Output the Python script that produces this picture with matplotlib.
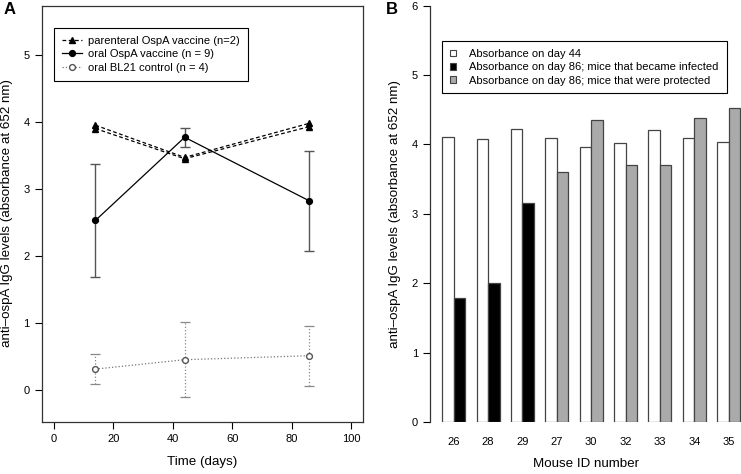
import matplotlib
matplotlib.use("Agg")
import matplotlib.pyplot as plt
import numpy as np
from matplotlib.lines import Line2D
from matplotlib.patches import Patch

plt.rcParams["font.family"] = ["Liberation Sans", "DejaVu Sans"]

# Panel A: antibody time course
days = [14, 44, 86]
parenteral_1 = [3.95, 3.47, 3.98]
parenteral_2 = [3.90, 3.45, 3.93]
oral_ospa = [2.53, 3.77, 2.82]
oral_ospa_lo = [1.68, 3.63, 2.08]
oral_ospa_hi = [3.37, 3.91, 3.57]
bl21 = [0.31, 0.45, 0.51]
bl21_lo = [0.085, -0.11, 0.055]
bl21_hi = [0.54, 1.01, 0.96]

# Panel B: per-mouse absorbance
mouse_ids = ["26", "28", "29", "27", "30", "32", "33", "34", "35"]
day44 = [4.11, 4.08, 4.23, 4.10, 3.97, 4.02, 4.21, 4.09, 4.03]
day86 = [1.79, 2.01, 3.16, 3.61, 4.35, 3.71, 3.70, 4.38, 4.53]
infected = [True, True, True, False, False, False, False, False, False]

ylabel = "anti\u2013ospA IgG levels (absorbance at 652 nm)"

fig = plt.figure(figsize=(7.41, 4.74), dpi=100)
W, H = 741, 474


def px_axes(l, r, t, b):
    return fig.add_axes([l / W, 1 - b / H, (r - l) / W, (b - t) / H])


# ---- A ----
ax1 = px_axes(42, 363, 6, 422)
ax1.set_xlim(-4, 104)
ax1.set_ylim(-0.48, 5.73)

ax1.plot(days, parenteral_1, "k--", marker="^", ms=4.2, lw=0.9, dashes=(3, 2))
ax1.plot(days, parenteral_2, "k--", marker="^", ms=4.2, lw=0.9, dashes=(3, 2))

err_lo = np.array(oral_ospa) - np.array(oral_ospa_lo)
err_hi = np.array(oral_ospa_hi) - np.array(oral_ospa)
ax1.errorbar(days, oral_ospa, yerr=[err_lo, err_hi], fmt="none", ecolor="#555555",
             elinewidth=1.0, capsize=3.5, capthick=1.0)
ax1.plot(days, oral_ospa, "k-", marker="o", ms=4.2, lw=0.9)

b_lo = np.array(bl21) - np.array(bl21_lo)
b_hi = np.array(bl21_hi) - np.array(bl21)
eb = ax1.errorbar(days, bl21, yerr=[b_lo, b_hi], fmt="none", ecolor="#888888",
                  elinewidth=0.9, capsize=3.5, capthick=0.9)
eb[2][0].set_linestyle(":")
ax1.plot(days, bl21, color="#777777", ls=":", marker="o", ms=4.2, mfc="white",
         mec="#555555", lw=0.9)

ax1.set_xticks([0, 20, 40, 60, 80, 100])
ax1.set_yticks([0, 1, 2, 3, 4, 5])
ax1.tick_params(direction="out", length=5, width=0.8, labelsize=8, pad=4)
for s in ax1.spines.values():
    s.set_linewidth(0.9)
    s.set_color("#333333")
ax1.set_xlabel("Time (days)", fontsize=9.6, labelpad=8)

h1 = [
    Line2D([], [], color="k", ls="--", dashes=(3, 2), marker="^", ms=4.2, lw=0.9),
    Line2D([], [], color="k", ls="-", marker="o", ms=4.2, lw=0.9),
    Line2D([], [], color="#777777", ls=":", marker="o", ms=4.2, mfc="white", mec="#555555", lw=0.9),
]
leg1 = ax1.legend(h1, ["parenteral OspA vaccine (n=2)", "oral OspA vaccine (n = 9)",
                       "oral BL21 control (n = 4)"],
                  loc="upper left", bbox_to_anchor=(0.037, 0.947), fontsize=8,
                  fancybox=False, framealpha=1, edgecolor="k", handlelength=1.8,
                  handletextpad=0.6, labelspacing=0.32, borderpad=0.7, borderaxespad=0)
leg1.get_frame().set_linewidth(0.8)

# ---- B ----
ax2 = px_axes(430.4, 741, 5.7, 422)
x_group = np.arange(len(mouse_ids)) * 3
ax2.bar(x_group + 1.5, day44, width=1.0, color="white", edgecolor="#444444", lw=0.9)
col86 = ["black" if inf else "#aaaaaa" for inf in infected]
ax2.bar(x_group + 2.5, day86, width=1.0, color=col86, edgecolor="#444444", lw=0.9)
ax2.set_xlim(-0.04, 27.08)
ax2.set_ylim(0, 6)
ax2.set_xticks(x_group + 2)
ax2.set_xticklabels(mouse_ids)
ax2.set_yticks([0, 1, 2, 3, 4, 5, 6])
ax2.tick_params(axis="x", length=0, labelsize=8, pad=11)
ax2.tick_params(axis="y", direction="out", length=5, width=0.8, labelsize=8, pad=4)
for s in ["top", "right", "bottom"]:
    ax2.spines[s].set_visible(False)
ax2.spines["left"].set_linewidth(0.9)
ax2.spines["left"].set_color("#333333")
ax2.set_xlabel("Mouse ID number", fontsize=9.6, labelpad=8)

h2 = [Patch(facecolor="white", edgecolor="#444444", lw=0.8),
      Patch(facecolor="black", edgecolor="#444444", lw=0.8),
      Patch(facecolor="#aaaaaa", edgecolor="#444444", lw=0.8)]
leg2 = ax2.legend(h2, ["Absorbance on day 44",
                       "Absorbance on day 86; mice that became infected",
                       "Absorbance on day 86; mice that were protected"],
                  loc="upper left", bbox_to_anchor=(0.038, 0.915), fontsize=8,
                  fancybox=False, framealpha=1, edgecolor="k", handlelength=0.55,
                  handleheight=0.55, handletextpad=1.2, labelspacing=0.3,
                  borderpad=0.7, borderaxespad=0)
leg2.get_frame().set_linewidth(0.8)

# y labels and panel letters placed in figure pixels
fig.text(7 / W, 1 - 213 / H, ylabel, fontsize=9.6, rotation=90, ha="center", va="center")
fig.text(395 / W, 1 - 213.5 / H, ylabel, fontsize=9.6, rotation=90, ha="center", va="center")
fig.text(10 / W, 1 - 10 / H, "A", fontsize=12, fontweight="bold", ha="center", va="center")
fig.text(392 / W, 1 - 10 / H, "B", fontsize=12, fontweight="bold", ha="center", va="center")

fig.savefig("out.png", dpi=100)
